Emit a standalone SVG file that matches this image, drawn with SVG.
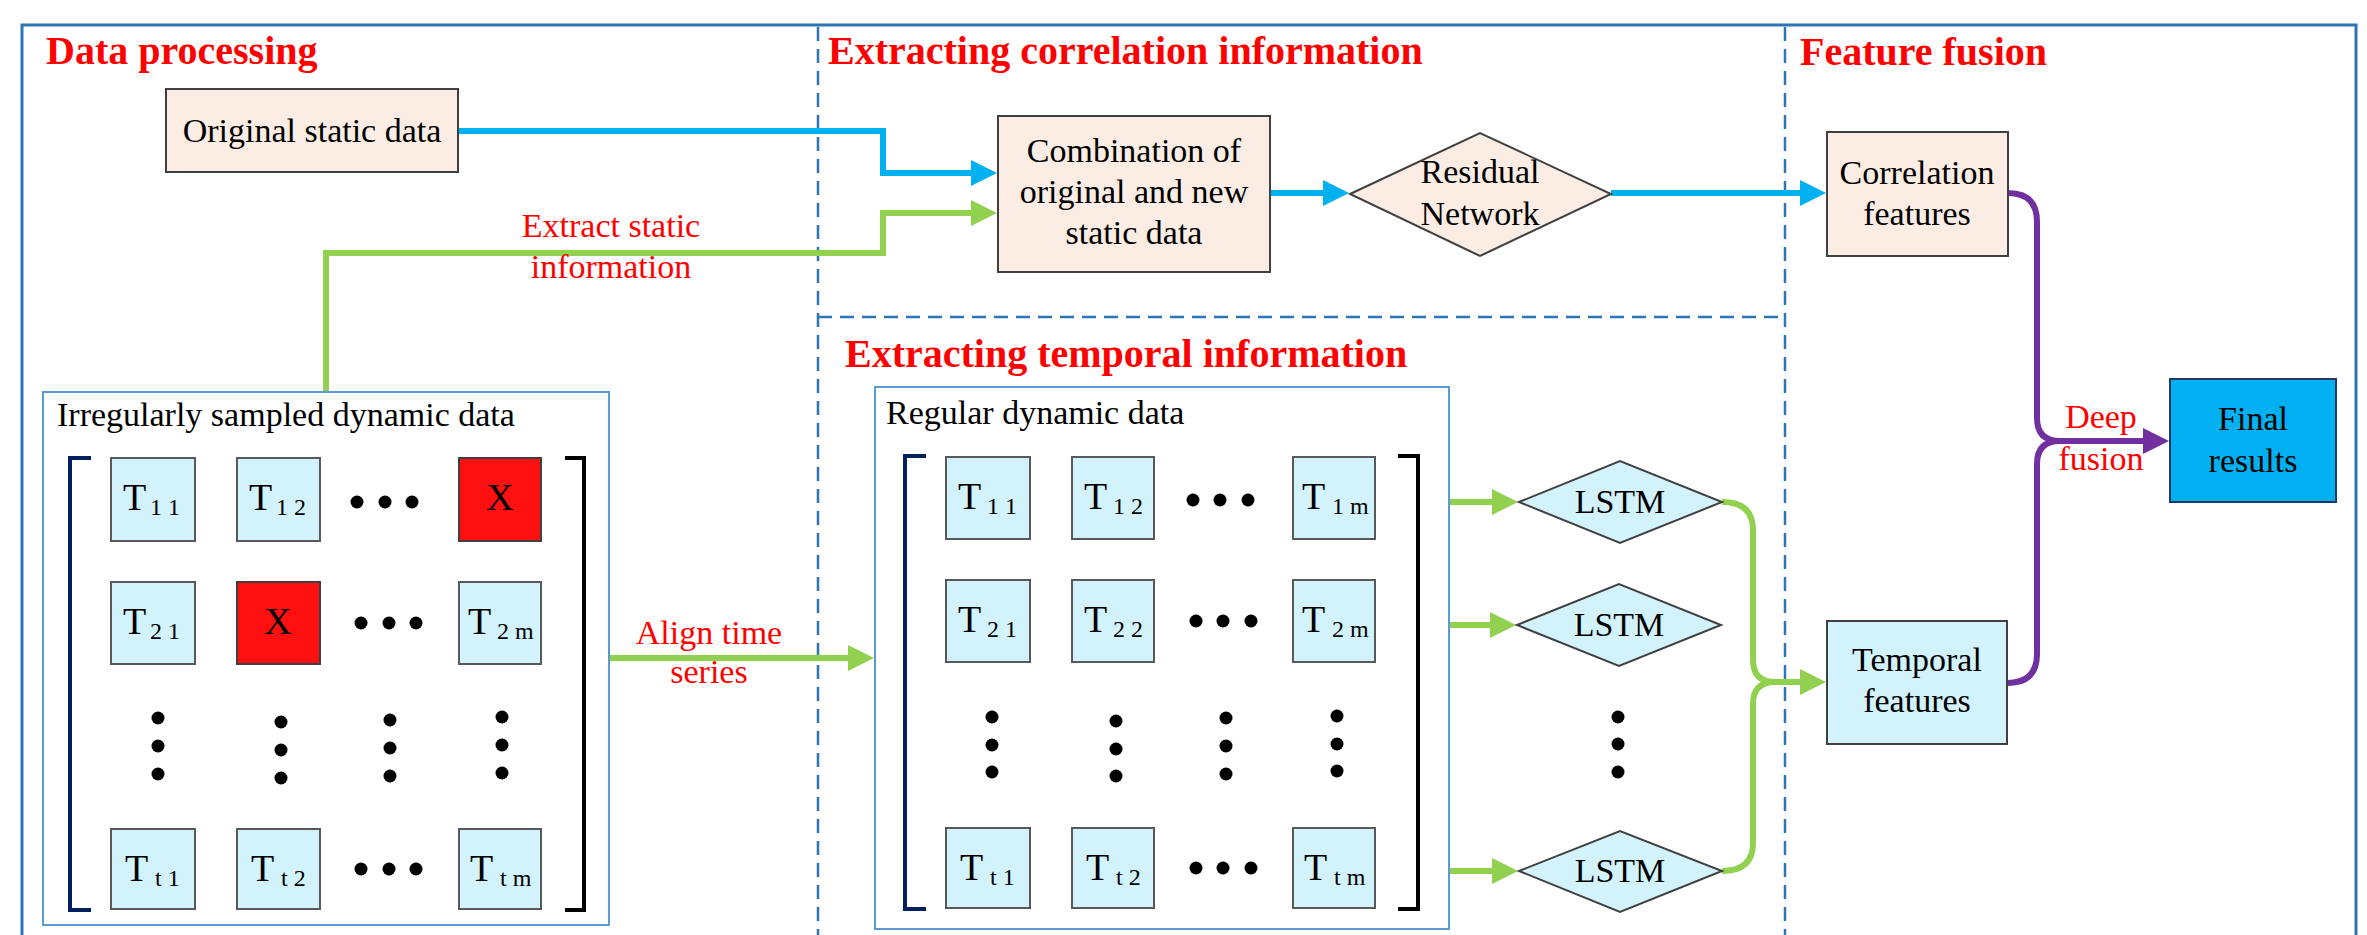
<svg xmlns="http://www.w3.org/2000/svg" width="2367" height="935" viewBox="0 0 2367 935">
<style>
text{font-family:"Liberation Serif","Times New Roman",serif;fill:#000}
.title{font-size:40px;font-weight:bold;fill:#FF0000}
.lbl{font-size:34px}
.red{font-size:34px;fill:#FF0000}
.peach{fill:#FBEDE3;stroke:#404040;stroke-width:2}
.cyan{fill:#D2F2FC;stroke:#404040;stroke-width:2}
.cell{fill:#D2F2FC;stroke:#595959;stroke-width:2}
.xcell{fill:#FF1010;stroke:#404040;stroke-width:2}
.T{font-size:38px}
.sub{font-size:24px}
.panel{fill:none;stroke:#5B9BD5;stroke-width:2}
.dash{fill:none;stroke:#2E75B6;stroke-width:2.5;stroke-dasharray:14 8}
.blue{fill:none;stroke:#00B0F0;stroke-width:6}
.green{fill:none;stroke:#92D050;stroke-width:6}
.purple{fill:none;stroke:#7030A0;stroke-width:6}
.dot{fill:#000}
</style>
<defs>
<marker id="ab" viewBox="0 0 26 26" refX="1" refY="13" markerUnits="userSpaceOnUse" markerWidth="26" markerHeight="26" orient="auto"><path d="M0,0 L26,13 L0,26 z" fill="#00B0F0"/></marker>
<marker id="ag" viewBox="0 0 26 26" refX="1" refY="13" markerUnits="userSpaceOnUse" markerWidth="26" markerHeight="26" orient="auto"><path d="M0,0 L26,13 L0,26 z" fill="#92D050"/></marker>
<marker id="ap" viewBox="0 0 26 26" refX="1" refY="13" markerUnits="userSpaceOnUse" markerWidth="27" markerHeight="26" orient="auto"><path d="M0,0 L26,13 L0,26 z" fill="#7030A0"/></marker>
</defs>
<rect width="2367" height="935" fill="#fff"/>
<g id="frame">
<rect x="22" y="25" width="2334" height="930" fill="none" stroke="#2E75B6" stroke-width="3"/>
<line class="dash" x1="818" y1="27" x2="818" y2="935"/>
<line class="dash" x1="1785" y1="27" x2="1785" y2="935"/>
<line class="dash" x1="818" y1="317" x2="1785" y2="317"/>
<text class="title" x="46" y="64">Data processing</text>
<text class="title" x="828" y="64">Extracting correlation information</text>
<text class="title" x="1800" y="65">Feature fusion</text>
<text class="title" x="845" y="367">Extracting temporal information</text>
</g>
<g id="connectors">
<path class="blue" d="M458,131 L883,131 L883,173 L972,173" marker-end="url(#ab)"/>
<path class="green" d="M326,392 L326,253 L883,253 L883,213 L972,213" marker-end="url(#ag)"/>
<path class="blue" d="M1270,193 L1324,193" marker-end="url(#ab)"/>
<path class="blue" d="M1611,193 L1801,193" marker-end="url(#ab)"/>
<path class="green" d="M609,658 L849,658" marker-end="url(#ag)"/>
<path class="green" d="M1450,502 L1493,502" marker-end="url(#ag)"/>
<path class="green" d="M1450,625 L1491,625" marker-end="url(#ag)"/>
<path class="green" d="M1450,871 L1493,871" marker-end="url(#ag)"/>
<path class="green" d="M1722,502 Q1753,502 1753,530 L1753,660 Q1753,682 1775,682 L1801,682" marker-end="url(#ag)"/>
<path class="green" d="M1722,871 Q1753,871 1753,843 L1753,704 Q1753,682 1775,682"/>
<path class="purple" d="M2008,193 Q2037,193 2037,222 L2037,418 Q2037,441 2060,441 L2144,441" marker-end="url(#ap)"/>
<path class="purple" d="M2007,683 Q2037,683 2037,654 L2037,464 Q2037,441 2060,441"/>
<text class="red" x="611" y="237" text-anchor="middle">Extract static</text>
<text class="red" x="611" y="278" text-anchor="middle">information</text>
<text class="red" x="709" y="644" text-anchor="middle">Align time</text>
<text class="red" x="709" y="683" text-anchor="middle">series</text>
<text class="red" x="2101" y="428" text-anchor="middle">Deep</text>
<text class="red" x="2101" y="470" text-anchor="middle">fusion</text>
</g>
<g id="original-static-data">
<rect class="peach" x="166" y="89" width="292" height="83"/>
<text class="lbl" x="312" y="142" text-anchor="middle">Original static data</text>
</g>
<g id="combination">
<rect class="peach" x="998" y="116" width="272" height="156"/>
<text class="lbl" x="1134" y="162" text-anchor="middle">Combination of</text>
<text class="lbl" x="1134" y="203" text-anchor="middle">original and new</text>
<text class="lbl" x="1134" y="244" text-anchor="middle">static data</text>
</g>
<g id="residual-network">
<path class="peach" d="M1350,194 L1480,133 L1611,194 L1480,256 z" stroke-width="1.5"/>
<text class="lbl" x="1480" y="183" text-anchor="middle">Residual</text>
<text class="lbl" x="1480" y="225" text-anchor="middle">Network</text>
</g>
<g id="correlation-features">
<rect class="peach" x="1827" y="132" width="181" height="124"/>
<text class="lbl" x="1917" y="184" text-anchor="middle">Correlation</text>
<text class="lbl" x="1917" y="225" text-anchor="middle">features</text>
</g>
<g id="final-results">
<rect x="2170" y="379" width="166" height="123" fill="#00B0F0" stroke="#1F3864" stroke-width="2"/>
<text class="lbl" x="2253" y="430" text-anchor="middle">Final</text>
<text class="lbl" x="2253" y="472" text-anchor="middle">results</text>
</g>
<g id="temporal-features">
<rect class="cyan" x="1827" y="621" width="180" height="123"/>
<text class="lbl" x="1917" y="671" text-anchor="middle">Temporal</text>
<text class="lbl" x="1917" y="712" text-anchor="middle">features</text>
</g>
<g id="lstm-1">
<path class="cyan" d="M1519,502 L1620,461 L1722,502 L1620,543 z" stroke-width="1.5"/>
<text class="lbl" x="1620" y="513" text-anchor="middle">LSTM</text>
</g>
<g id="lstm-2">
<path class="cyan" d="M1517,625 L1619,584 L1721,625 L1619,666 z" stroke-width="1.5"/>
<text class="lbl" x="1619" y="636" text-anchor="middle">LSTM</text>
</g>
<g id="lstm-dots">
<circle class="dot" cx="1618" cy="717" r="6.5"/>
<circle class="dot" cx="1618" cy="744" r="6.5"/>
<circle class="dot" cx="1618" cy="772" r="6.5"/>
</g>
<g id="lstm-3">
<path class="cyan" d="M1519,871 L1620,831 L1722,871 L1620,912 z" stroke-width="1.5"/>
<text class="lbl" x="1620" y="882" text-anchor="middle">LSTM</text>
</g>
<g id="irregular-data">
<rect class="panel" x="43" y="392" width="566" height="533"/>
<text class="lbl" x="57" y="426">Irregularly sampled dynamic data</text>
<path d="M91,458 L70,458 L70,910 L91,910" fill="none" stroke="#002060" stroke-width="4"/>
<path d="M565,458 L584,458 L584,910 L565,910" fill="none" stroke="#000" stroke-width="4"/>
<rect class="cell" x="111" y="458" width="84" height="83"/><text class="T" x="123" y="510">T</text><text class="sub" x="150" y="515">1 1</text>
<rect class="cell" x="237" y="458" width="83" height="83"/><text class="T" x="249" y="510">T</text><text class="sub" x="276" y="515">1 2</text>
<circle class="dot" cx="357" cy="502" r="6.5"/><circle class="dot" cx="385" cy="502" r="6.5"/><circle class="dot" cx="412" cy="502" r="6.5"/>
<rect class="xcell" x="459" y="458" width="82" height="83"/><text class="T" x="500" y="510" text-anchor="middle">X</text>
<rect class="cell" x="111" y="582" width="84" height="82"/><text class="T" x="123" y="634">T</text><text class="sub" x="150" y="639">2 1</text>
<rect class="xcell" x="237" y="582" width="83" height="82"/><text class="T" x="278" y="634" text-anchor="middle">X</text>
<circle class="dot" cx="361" cy="623" r="6.5"/><circle class="dot" cx="389" cy="623" r="6.5"/><circle class="dot" cx="416" cy="623" r="6.5"/>
<rect class="cell" x="459" y="582" width="82" height="82"/><text class="T" x="468" y="634">T</text><text class="sub" x="497" y="639">2 m</text>
<circle class="dot" cx="158" cy="718" r="6.5"/><circle class="dot" cx="158" cy="746" r="6.5"/><circle class="dot" cx="158" cy="774" r="6.5"/>
<circle class="dot" cx="281" cy="722" r="6.5"/><circle class="dot" cx="281" cy="750" r="6.5"/><circle class="dot" cx="281" cy="778" r="6.5"/>
<circle class="dot" cx="390" cy="720" r="6.5"/><circle class="dot" cx="390" cy="748" r="6.5"/><circle class="dot" cx="390" cy="776" r="6.5"/>
<circle class="dot" cx="502" cy="717" r="6.5"/><circle class="dot" cx="502" cy="745" r="6.5"/><circle class="dot" cx="502" cy="773" r="6.5"/>
<rect class="cell" x="111" y="829" width="84" height="80"/><text class="T" x="125" y="881">T</text><text class="sub" x="155" y="886">t 1</text>
<rect class="cell" x="237" y="829" width="83" height="80"/><text class="T" x="251" y="881">T</text><text class="sub" x="281" y="886">t 2</text>
<circle class="dot" cx="361" cy="869" r="6.5"/><circle class="dot" cx="389" cy="869" r="6.5"/><circle class="dot" cx="416" cy="869" r="6.5"/>
<rect class="cell" x="459" y="829" width="82" height="80"/><text class="T" x="470" y="881">T</text><text class="sub" x="500" y="886">t m</text>
</g>
<g id="regular-data">
<rect class="panel" x="875" y="387" width="574" height="542"/>
<text class="lbl" x="886" y="424">Regular dynamic data</text>
<path d="M926,456 L905,456 L905,909 L926,909" fill="none" stroke="#002060" stroke-width="4"/>
<path d="M1398,456 L1418,456 L1418,909 L1398,909" fill="none" stroke="#000" stroke-width="4"/>
<rect class="cell" x="946" y="457" width="84" height="82"/><text class="T" x="958" y="509">T</text><text class="sub" x="987" y="514">1 1</text>
<rect class="cell" x="1072" y="457" width="82" height="82"/><text class="T" x="1084" y="509">T</text><text class="sub" x="1113" y="514">1 2</text>
<circle class="dot" cx="1193" cy="500" r="6.5"/><circle class="dot" cx="1220" cy="500" r="6.5"/><circle class="dot" cx="1248" cy="500" r="6.5"/>
<rect class="cell" x="1293" y="457" width="82" height="82"/><text class="T" x="1302" y="509">T</text><text class="sub" x="1332" y="514">1 m</text>
<rect class="cell" x="946" y="580" width="84" height="82"/><text class="T" x="958" y="632">T</text><text class="sub" x="987" y="637">2 1</text>
<rect class="cell" x="1072" y="580" width="82" height="82"/><text class="T" x="1084" y="632">T</text><text class="sub" x="1113" y="637">2 2</text>
<circle class="dot" cx="1196" cy="621" r="6.5"/><circle class="dot" cx="1223" cy="621" r="6.5"/><circle class="dot" cx="1251" cy="621" r="6.5"/>
<rect class="cell" x="1293" y="580" width="82" height="82"/><text class="T" x="1302" y="632">T</text><text class="sub" x="1332" y="637">2 m</text>
<circle class="dot" cx="992" cy="717" r="6.5"/><circle class="dot" cx="992" cy="745" r="6.5"/><circle class="dot" cx="992" cy="772" r="6.5"/>
<circle class="dot" cx="1116" cy="721" r="6.5"/><circle class="dot" cx="1116" cy="749" r="6.5"/><circle class="dot" cx="1116" cy="776" r="6.5"/>
<circle class="dot" cx="1226" cy="718" r="6.5"/><circle class="dot" cx="1226" cy="746" r="6.5"/><circle class="dot" cx="1226" cy="774" r="6.5"/>
<circle class="dot" cx="1337" cy="716" r="6.5"/><circle class="dot" cx="1337" cy="744" r="6.5"/><circle class="dot" cx="1337" cy="771" r="6.5"/>
<rect class="cell" x="946" y="828" width="84" height="80"/><text class="T" x="960" y="880">T</text><text class="sub" x="990" y="885">t 1</text>
<rect class="cell" x="1072" y="828" width="82" height="80"/><text class="T" x="1086" y="880">T</text><text class="sub" x="1116" y="885">t 2</text>
<circle class="dot" cx="1196" cy="868" r="6.5"/><circle class="dot" cx="1223" cy="868" r="6.5"/><circle class="dot" cx="1251" cy="868" r="6.5"/>
<rect class="cell" x="1293" y="828" width="82" height="80"/><text class="T" x="1304" y="880">T</text><text class="sub" x="1334" y="885">t m</text>
</g>
</svg>
